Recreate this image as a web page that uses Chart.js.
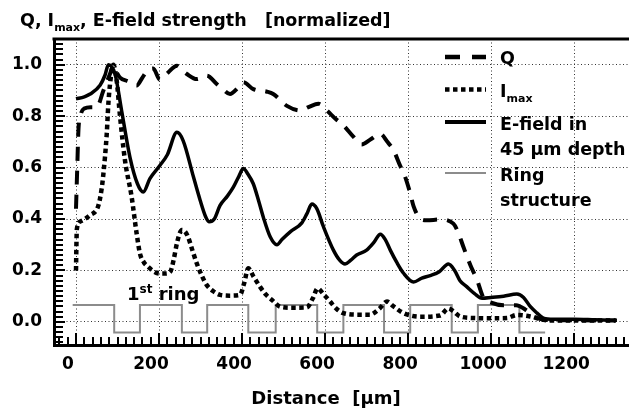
<!DOCTYPE html>
<html>
<head>
<meta charset="utf-8">
<script src="https://cdn.jsdelivr.net/npm/chart.js@4.4.0/dist/chart.umd.min.js"></script>
<style>
  html, body { margin: 0; padding: 0; background: #fff; }
  #wrap { position: relative; width: 629px; height: 411px; }
</style>
</head>
<body>
<div id="wrap"><canvas id="chart" width="629" height="411"></canvas></div>
<script>
// values (distance in um, normalized value)
const qDist = [0, 3, 6, 12, 20, 35, 50, 66, 82, 90, 98, 106, 126, 146, 160, 172, 186, 202, 212, 222, 243, 255, 267, 291, 315, 339, 355, 371, 390, 403, 427, 460, 475, 508, 540, 560, 584, 604, 625, 644, 668, 688, 710, 733, 750, 765, 780, 793, 805, 813, 830, 845, 877, 909, 920, 933, 950, 966, 981, 1000, 1030, 1060, 1085, 1110, 1130, 1200, 1300];
const qVal  = [0.44, 0.6, 0.75, 0.81, 0.83, 0.835, 0.835, 0.9, 0.965, 0.997, 0.97, 0.95, 0.935, 0.919, 0.95, 0.977, 0.985, 0.942, 0.955, 0.97, 0.996, 0.98, 0.964, 0.944, 0.957, 0.925, 0.903, 0.886, 0.91, 0.932, 0.905, 0.895, 0.886, 0.84, 0.822, 0.835, 0.848, 0.822, 0.79, 0.764, 0.72, 0.69, 0.71, 0.731, 0.70, 0.667, 0.61, 0.563, 0.5, 0.45, 0.40, 0.395, 0.398, 0.382, 0.35, 0.292, 0.22, 0.163, 0.095, 0.075, 0.065, 0.065, 0.045, 0.015, 0.008, 0.006, 0.005];

const iDist = [0, 1, 2, 10, 34, 54, 62, 66, 74, 78, 82, 90, 98, 106, 118, 134, 146, 154, 164, 174, 188, 202, 215, 227, 235, 243, 250, 255, 262, 270, 280, 291, 303, 315, 330, 347, 370, 395, 405, 415, 428, 443, 458, 472, 492, 520, 556, 570, 582, 595, 612, 628, 644, 680, 708, 730, 749, 765, 789, 829, 877, 897, 910, 925, 960, 1000, 1038, 1062, 1080, 1094, 1126, 1160, 1300];
const iVal  = [0.2, 0.3, 0.36, 0.39, 0.415, 0.453, 0.52, 0.576, 0.73, 0.85, 0.925, 1.0, 0.938, 0.8, 0.628, 0.486, 0.344, 0.266, 0.23, 0.214, 0.195, 0.188, 0.188, 0.195, 0.24, 0.305, 0.345, 0.357, 0.352, 0.33, 0.28, 0.227, 0.18, 0.143, 0.12, 0.105, 0.102, 0.105, 0.15, 0.208, 0.175, 0.137, 0.105, 0.085, 0.059, 0.055, 0.056, 0.09, 0.13, 0.11, 0.079, 0.05, 0.034, 0.028, 0.028, 0.05, 0.079, 0.06, 0.034, 0.02, 0.025, 0.052, 0.04, 0.021, 0.015, 0.014, 0.015, 0.027, 0.025, 0.021, 0.008, 0.005, 0.005];

const eDist = [0, 20, 34, 58, 70, 78, 94, 110, 130, 148, 162, 178, 202, 220, 243, 258, 283, 299, 312, 321, 333, 347, 365, 379, 392, 403, 414, 427, 440, 451, 468, 484, 496, 516, 544, 556, 568, 580, 596, 620, 635, 648, 662, 676, 700, 718, 733, 745, 757, 773, 789, 813, 833, 853, 875, 897, 912, 925, 941, 960, 978, 1000, 1030, 1062, 1078, 1094, 1110, 1126, 1150, 1200, 1250, 1303];
const eVal  = [0.867, 0.875, 0.886, 0.92, 0.96, 1.0, 0.964, 0.82, 0.64, 0.537, 0.505, 0.557, 0.608, 0.65, 0.737, 0.705, 0.563, 0.473, 0.41, 0.389, 0.40, 0.453, 0.49, 0.524, 0.565, 0.596, 0.575, 0.537, 0.47, 0.408, 0.33, 0.30, 0.32, 0.35, 0.385, 0.42, 0.458, 0.44, 0.37, 0.279, 0.24, 0.225, 0.24, 0.26, 0.279, 0.31, 0.341, 0.32, 0.279, 0.23, 0.189, 0.155, 0.17, 0.18, 0.195, 0.225, 0.2, 0.16, 0.137, 0.11, 0.092, 0.095, 0.10, 0.108, 0.095, 0.06, 0.035, 0.014, 0.01, 0.01, 0.008, 0.006];

// ring structure: level starting at each edge
const ringEdges = [-8, 92, 154, 255, 316, 415, 481, 581, 644, 742, 805, 905, 968, 1068, 1130];
const ringLevel = [0.066, -0.041, 0.066, -0.041, 0.066, -0.041, 0.066, -0.041, 0.066, -0.041, 0.066, -0.041, 0.066, -0.041, -0.041];

const xTicks = [0, 200, 400, 600, 800, 1000, 1200];
const yTicks = [0, 0.2, 0.4, 0.6, 0.8, 1.0];

const xMin = -53, xMax = 1332;
const yMin = -0.09, yMax = 1.1;

const FONT = '"DejaVu Sans", sans-serif';
function font(size){ return 'bold ' + size + 'px ' + FONT; }

function pts(xs, ys){ return xs.map((x, i) => ({x: x, y: ys[i]})); }

// text in pieces: kind 0 normal, 1 subscript, 2 superscript
function drawParts(ctx, parts, x, y, size){
    parts.forEach(([txt, kind]) => {
        const s = kind ? Math.round(size * 0.64) : size;
        ctx.font = font(s);
        const dy = kind === 1 ? size * 0.3 : kind === 2 ? -size * 0.38 : 0;
        ctx.fillText(txt, x, y + dy);
        x += ctx.measureText(txt).width;
    });
}

function legendLine(ctx, y, color, width, dash){
    ctx.save();
    ctx.strokeStyle = color;
    ctx.lineWidth = width;
    ctx.setLineDash(dash);
    ctx.beginPath();
    ctx.moveTo(445, y);
    ctx.lineTo(486, y);
    ctx.stroke();
    ctx.restore();
}

const decorations = {
    id: 'decorations',
    afterDraw(chart){
        const ctx = chart.ctx;
        const area = chart.chartArea;
        const xs = chart.scales.x, ys = chart.scales.y;
        ctx.save();
        ctx.setLineDash([]);
        ctx.strokeStyle = '#000';

        // top frame line
        ctx.lineWidth = 3;
        ctx.beginPath();
        ctx.moveTo(area.left - 1.5, area.top);
        ctx.lineTo(area.right, area.top);
        ctx.stroke();

        // minor ticks along bottom and left axes
        ctx.lineWidth = 2;
        ctx.beginPath();
        for(let v = -40; v <= 1320; v += 20){
            const px = Math.round(xs.getPixelForValue(v));
            const len = v % 200 === 0 ? 12 : 8;
            ctx.moveTo(px, area.bottom + 1);
            ctx.lineTo(px, area.bottom - len);
        }
        for(let i = -4; i <= 54; i++){
            const py = Math.round(ys.getPixelForValue(i * 0.02));
            const len = i % 10 === 0 ? 11 : 9;
            ctx.moveTo(area.left - 1, py);
            ctx.lineTo(area.left + len, py);
        }
        ctx.stroke();

        ctx.fillStyle = '#000';
        ctx.textBaseline = 'alphabetic';
        ctx.textAlign = 'left';

        // title
        drawParts(ctx, [['Q, I', 0], ['max', 1], [', E-field strength   [normalized]', 0]], 20, 26, 17.5);

        // x axis title
        ctx.font = font(18);
        ctx.textAlign = 'center';
        ctx.fillText('Distance  [\u03bcm]', 326, 404);
        ctx.textAlign = 'left';

        // legend
        legendLine(ctx, 57, '#000', 4.5, [15, 12]);
        legendLine(ctx, 89.5, '#000', 4.5, [4.5, 3.5]);
        legendLine(ctx, 122, '#000', 4, []);
        legendLine(ctx, 173, '#8c8c8c', 2, []);
        drawParts(ctx, [['Q', 0]], 500, 64, 17.5);
        drawParts(ctx, [['I', 0], ['max', 1]], 500, 97, 17.5);
        drawParts(ctx, [['E-field in', 0]], 500, 130, 17.5);
        drawParts(ctx, [['45 \u03bcm depth', 0]], 500, 155, 17.5);
        drawParts(ctx, [['Ring', 0]], 500, 181, 17.5);
        drawParts(ctx, [['structure', 0]], 500, 206, 17.5);

        // ring label
        drawParts(ctx, [['1', 0], ['st', 2], [' ring', 0]], 127, 300, 18);

        ctx.restore();
    }
};

const gridStyle = { color: '#333', lineWidth: 1, drawTicks: false };
const borderStyle = { display: true, color: '#000', width: 3, dash: [1, 2.5] };

new Chart(document.getElementById('chart'), {
    type: 'line',
    data: {
        datasets: [
            {
                label: 'Q',
                data: pts(qDist, qVal),
                borderColor: '#000',
                borderWidth: 4,
                borderDash: [14, 10],
                cubicInterpolationMode: 'monotone',
                pointRadius: 0
            },
            {
                label: 'Imax',
                data: pts(iDist, iVal),
                borderColor: '#000',
                borderWidth: 4.5,
                borderDash: [4.5, 3.5],
                cubicInterpolationMode: 'monotone',
                pointRadius: 0
            },
            {
                label: 'E-field in 45 um depth',
                data: pts(eDist, eVal),
                borderColor: '#000',
                borderWidth: 3.5,
                cubicInterpolationMode: 'monotone',
                pointRadius: 0
            },
            {
                label: 'Ring structure',
                data: pts(ringEdges, ringLevel),
                borderColor: '#8c8c8c',
                borderWidth: 2,
                stepped: true,
                pointRadius: 0
            }
        ]
    },
    options: {
        responsive: false,
        animation: false,
        layout: { padding: { top: 39, right: 0, left: 0, bottom: 0 } },
        plugins: { legend: { display: false }, tooltip: { enabled: false } },
        scales: {
            x: {
                type: 'linear',
                min: xMin,
                max: xMax,
                grid: gridStyle,
                border: borderStyle,
                afterFit(s){ s.height = 66; },
                afterBuildTicks(s){ s.ticks = xTicks.map(v => ({value: v})); },
                ticks: {
                    maxRotation: 0,
                    autoSkip: false,
                    labelOffset: -8,
                    padding: 9,
                    color: '#000',
                    font: { family: FONT, size: 17, weight: 'bold' },
                    callback: v => String(v)
                }
            },
            y: {
                type: 'linear',
                min: yMin,
                max: yMax,
                grid: gridStyle,
                border: borderStyle,
                afterFit(s){ s.width = 54; },
                afterBuildTicks(s){ s.ticks = yTicks.map(v => ({value: v})); },
                ticks: {
                    autoSkip: false,
                    padding: 12,
                    color: '#000',
                    font: { family: FONT, size: 17, weight: 'bold' },
                    callback: v => v.toFixed(1)
                }
            }
        }
    },
    plugins: [decorations]
});
</script>
</body>
</html>
